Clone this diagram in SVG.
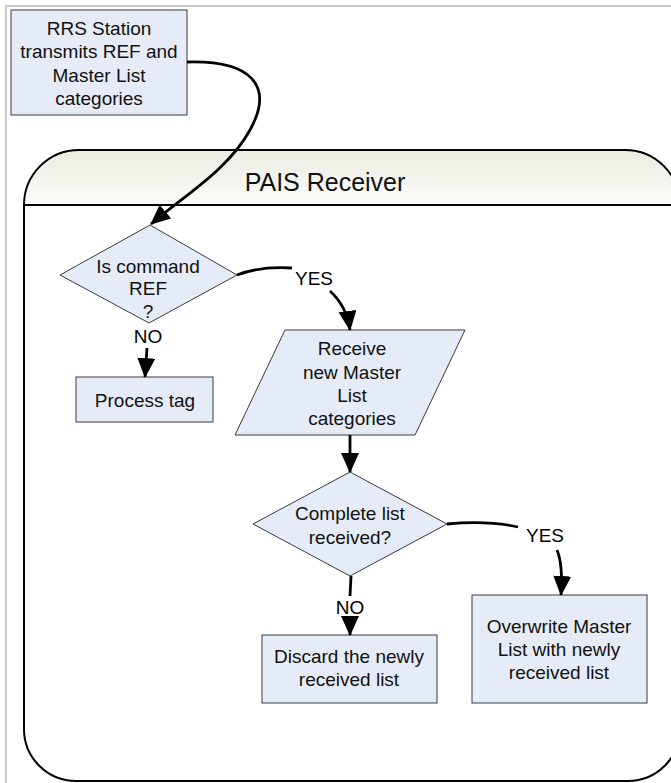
<svg xmlns="http://www.w3.org/2000/svg" width="671" height="783" viewBox="0 0 671 783">
<defs>
<linearGradient id="hdr" x1="0" y1="0" x2="0" y2="1">
<stop offset="0" stop-color="#ebece2"/>
<stop offset="1" stop-color="#fbfbf9"/>
</linearGradient>
<marker id="ah" markerUnits="userSpaceOnUse" markerWidth="20" markerHeight="18" viewBox="0 0 20 18" refX="19" refY="9" orient="auto">
<path d="M0,0 L20,9 L0,18 Z" fill="#000"/>
</marker>
</defs>
<style>
.node{fill:#e6ecf7;stroke:#3a3a3a;stroke-width:1}
.t{font-family:"Liberation Sans",Arial,sans-serif;font-size:19px;fill:#111;text-anchor:middle}
.lbl{font-family:"Liberation Sans",Arial,sans-serif;font-size:19px;fill:#000;text-anchor:middle}
.c{fill:none;stroke:#000;stroke-width:2.8}
</style>
<rect width="671" height="783" fill="#fff"/>
<path d="M6,783 V6 H671" fill="none" stroke="#c8c8c8" stroke-width="2"/>

<g id="pais-receiver">
<path d="M24,205 V729 A52,52 0 0 0 76,781 H628 A52,52 0 0 0 680,729 V205 Z" fill="#fff" stroke="#000" stroke-width="2"/>
<path d="M24,205 A55,55 0 0 1 79,150 H625 A55,55 0 0 1 680,205 Z" fill="url(#hdr)" stroke="#000" stroke-width="2"/>
<text x="325" y="191" font-family="'Liberation Sans',Arial,sans-serif" font-size="25" text-anchor="middle" fill="#111">PAIS Receiver</text>
</g>

<g id="rrs-station">
<rect class="node" x="11" y="10" width="176" height="105"/>
<text class="t" x="99" y="35">RRS Station</text>
<text class="t" x="99" y="58">transmits REF and</text>
<text class="t" x="99" y="82">Master List</text>
<text class="t" x="99" y="105">categories</text>
</g>

<g id="is-command-ref">
<polygon class="node" points="150,225 237,275 149,323 60,275"/>
<text class="t" x="148" y="273">Is command</text>
<text class="t" x="148" y="295">REF</text>
<text class="t" x="148" y="318">?</text>
</g>

<g id="process-tag">
<rect class="node" x="76" y="377" width="137" height="45"/>
<text class="t" x="145" y="407">Process tag</text>
</g>

<g id="receive-master-list">
<polygon class="node" points="285,330 465,330 415,435 235,435"/>
<text class="t" x="352" y="355">Receive</text>
<text class="t" x="352" y="379">new Master</text>
<text class="t" x="352" y="402">List</text>
<text class="t" x="352" y="425">categories</text>
</g>

<g id="complete-list">
<polygon class="node" points="350,472 447,524 350,576 253,524"/>
<text class="t" x="350" y="520">Complete list</text>
<text class="t" x="350" y="544">received?</text>
</g>

<g id="discard">
<rect class="node" x="262" y="635" width="175" height="68"/>
<text class="t" x="349" y="663">Discard the newly</text>
<text class="t" x="349" y="686">received list</text>
</g>

<g id="overwrite">
<rect class="node" x="472" y="595" width="175" height="108"/>
<text class="t" x="559" y="633">Overwrite Master</text>
<text class="t" x="559" y="656">List with newly</text>
<text class="t" x="559" y="679">received list</text>
</g>

<g id="connectors">
<path class="c" d="M187,62 C250,60 275,85 250,130 C228,170 185,195 151,224" marker-end="url(#ah)"/>
<path class="c" d="M237,275 C255,268 275,267 292,268"/>
<path class="c" d="M330,291 C342,302 348,315 350,330" marker-end="url(#ah)"/>
<path class="c" d="M147,348 L145,377" marker-end="url(#ah)"/>
<path class="c" d="M350,435 L350,472" marker-end="url(#ah)"/>
<path class="c" d="M447,524 C480,521 500,523 518,527"/>
<path class="c" d="M557,550 C562,562 562,580 561,595" marker-end="url(#ah)"/>
<path class="c" d="M351,576 L350,596"/>
<path class="c" d="M350,620 L350,635" marker-end="url(#ah)"/>
<text class="lbl" x="148" y="343">NO</text>
<text class="lbl" x="314" y="285">YES</text>
<text class="lbl" x="545" y="542">YES</text>
<text class="lbl" x="350" y="614">NO</text>
</g>
</svg>
